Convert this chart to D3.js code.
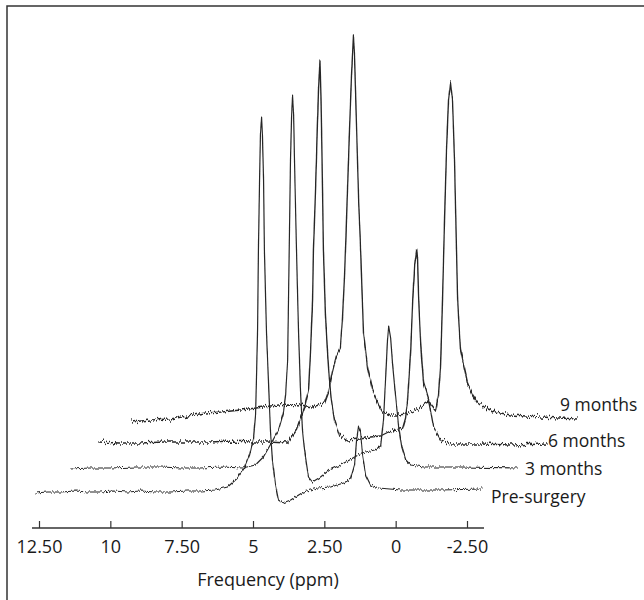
<!DOCTYPE html>
<meta charset="utf-8">
<style>
  body { margin: 0; padding: 0; background: white; }
  svg { display: block; background: white; }
  text { font-family: "Open Sans", sans-serif; fill: #1a1a1a; }
</style>
<script src="https://d3js.org/d3.v7.min.js"></script>
<svg id="vis"></svg>
<script>

// spectra: [frequency in ppm, signal in a.u.]
const preSurgery = [
  [12.63,-1],[12.2,0],[11.75,0],[11.2,1],[10.8,0],[10.35,0],[9.9,1],[9.4,0],[8.95,1],[8.4,0],
  [7.89,0],[7.3,1],[6.84,1],[6.32,2],[5.89,5],[5.54,14],[5.30,24],[5.12,37],[4.98,54],[4.91,77],
  [4.88,112],[4.84,162],[4.81,242],[4.77,312],[4.74,357],[4.70,375],[4.67,357],[4.63,312],[4.60,242],
  [4.53,162],[4.46,112],[4.39,62],[4.32,32],[4.21,7],[4.11,-8],[3.96,-11],[3.68,-8],[3.23,0],
  [2.74,4],[2.28,5],[1.82,9],[1.58,13],[1.44,27],[1.37,52],[1.30,66],[1.23,60],[1.16,37],[1.05,17],
  [0.88,7],[0.60,4],[-0.18,2],[-1.58,2],[-3.05,3]
];
const months3 = [
  [12.51,-1],[11.8,0],[11.11,0],[10.2,1],[9.35,1],[8.6,0],[7.95,0],[7.2,1],[6.47,0],[6.02,3],
  [5.74,11],[5.46,25],[5.21,38],[5.04,55],[4.96,73],[4.89,108],[4.86,168],[4.82,248],[4.79,308],
  [4.75,353],[4.72,372],[4.68,353],[4.65,308],[4.58,218],[4.51,138],[4.44,78],[4.37,38],[4.30,18],
  [4.16,-9],[4.02,-14],[3.74,-9],[3.42,-2],[3.04,3],[2.72,8],[2.30,15],[1.84,18],[1.63,22],[1.53,48],
  [1.46,88],[1.39,128],[1.35,142],[1.28,130],[1.21,103],[1.11,73],[1.00,41],[0.89,21],[0.75,8],
  [0.58,3],[0.12,1],[-1.18,1],[-3.18,0]
];
const months6 = [
  [12.63,2],[11.9,1],[11.16,1],[10.3,2],[9.40,2],[8.7,2],[8.00,3],[7.3,2],[6.70,2],[6.00,1],
  [5.68,14],[5.40,37],[5.26,54],[5.19,94],[5.12,144],[5.09,194],[5.02,250],[4.96,310],[4.91,355],
  [4.86,384],[4.82,340],[4.78,270],[4.74,194],[4.67,130],[4.60,94],[4.53,64],[4.46,44],[4.35,24],
  [4.18,9],[3.89,4],[3.44,5],[3.09,7],[2.74,8],[2.46,12],[2.18,14],[1.96,16],[1.86,26],[1.79,44],
  [1.68,94],[1.61,144],[1.54,179],[1.47,195],[1.44,184],[1.40,144],[1.33,99],[1.23,61],[1.05,44],
  [0.88,17],[0.63,4],[0.28,0],[-0.77,0],[-1.82,-1],[-3.12,0]
];
const months9 = [
  [12.58,-2],[11.9,0],[11.21,1],[10.6,4],[9.98,7],[9.4,8],[8.75,10],[8.2,12],[7.70,14],[7.11,16],
  [6.65,15],[6.23,13],[5.81,17],[5.67,28],[5.53,48],[5.39,64],[5.25,72],[5.18,100],[5.11,140],
  [5.07,170],[5.00,230],[4.93,290],[4.86,345],[4.79,385],[4.75,360],[4.68,290],[4.61,220],[4.54,170],
  [4.44,87],[4.30,53],[4.12,30],[3.91,15],[3.77,8],[3.49,5],[3.21,5],[2.96,6],[2.75,8],[2.51,11],
  [2.30,17],[2.19,19],[2.05,14],[1.91,9],[1.81,25],[1.74,53],[1.67,120],[1.60,200],[1.53,270],
  [1.46,320],[1.39,338],[1.32,320],[1.25,260],[1.18,170],[1.14,120],[1.04,70],[0.89,50],[0.79,37],
  [0.61,25],[0.44,18],[0.16,12],[-0.19,8],[-0.72,5],[-1.77,3],[-3.07,1]
];
const seriesNames = ["Pre-surgery", "3 months", "6 months", "9 months"];
const tickValues = [12.5, 10, 7.5, 5, 2.5, 0, -2.5];
const tickLabels = ["12.50", "10", "7.50", "5", "2.50", "0", "-2.50"];
const xTitle = "Frequency (ppm)";

const W = 644, H = 600;
const series = [preSurgery, months3, months6, months9];

// stacking offset of each spectrum (px)
const stepX = 31.5, stepY = -24;
// label anchors
const labelPos = [[491, 497], [525, 469], [548, 441], [560, 405]];
const noiseAmp = [5, 5, 8, 8];

var svg = d3.select("#vis").attr("width", W).attr("height", H);

var x = d3.scaleLinear().domain([12.5, -2.5]).range([39, 467]);
var y = d3.scaleLinear().domain([0, 400]).range([492, 92]);

// frame
svg.append("rect")
  .attr("x", 7).attr("y", 6).attr("width", W + 20).attr("height", H + 20)
  .attr("fill", "none").attr("stroke", "#333").attr("stroke-width", 1.5);

// noise texture on the traces (only shifts pixels vertically)
var defs = svg.append("defs");
noiseAmp.forEach((amp, i) => {
  var f = defs.append("filter").attr("id", "noise" + i)
    .attr("filterUnits", "userSpaceOnUse")
    .attr("x", 0).attr("y", 0).attr("width", W).attr("height", H);
  f.append("feTurbulence").attr("type", "fractalNoise")
    .attr("baseFrequency", "0.75 0.06").attr("numOctaves", 2)
    .attr("seed", i + 3).attr("result", "n");
  f.append("feColorMatrix").attr("in", "n").attr("type", "matrix")
    .attr("values", "0 0 0 0 0.5  0 1 0 0 0  0 0 0 0 0  0 0 0 0 1")
    .attr("result", "m");
  f.append("feDisplacementMap").attr("in", "SourceGraphic").attr("in2", "m")
    .attr("scale", amp).attr("xChannelSelector", "R").attr("yChannelSelector", "G");
});

var line = d3.line().x(d => x(d[0])).y(d => y(d[1]));

series.forEach((data, i) => {
  svg.append("g")
    .attr("transform", `translate(${stepX * i},${stepY * i})`)
    .append("path")
      .datum(data)
      .attr("d", line)
      .attr("fill", "none")
      .attr("stroke", "#262626")
      .attr("stroke-width", i > 1 ? 1.35 : 1.2)
      .attr("stroke-linejoin", "round")
      .attr("filter", `url(#noise${i})`);
});

// series labels
svg.append("g").selectAll("text")
  .data(seriesNames)
  .join("text")
    .attr("x", (d, i) => labelPos[i][0])
    .attr("y", (d, i) => labelPos[i][1])
    .attr("dy", "0.35em")
    .attr("font-size", 17.5)
    .text(d => d);

// x axis, ticks pointing up
var axisY = 528;
var gx = svg.append("g")
  .attr("transform", `translate(0,${axisY})`)
  .call(d3.axisBottom(x)
    .tickValues(tickValues)
    .tickFormat((d, i) => tickLabels[i])
    .tickSizeInner(-7)
    .tickSizeOuter(0)
    .tickPadding(12));
gx.select(".domain").remove();
gx.selectAll(".tick line").attr("stroke", "#333").attr("stroke-width", 1.2);
gx.selectAll(".tick text")
  .attr("font-family", '"Open Sans", sans-serif')
  .attr("font-size", 18).attr("fill", "#1a1a1a");
gx.append("line")
  .attr("x1", x.range()[0] - 7).attr("x2", x.range()[1] + 17)
  .attr("stroke", "#333").attr("stroke-width", 1.5);

svg.append("text")
  .attr("x", 268).attr("y", 580)
  .attr("dy", "0.35em")
  .attr("text-anchor", "middle")
  .attr("font-size", 18)
  .text(xTitle);

</script>
